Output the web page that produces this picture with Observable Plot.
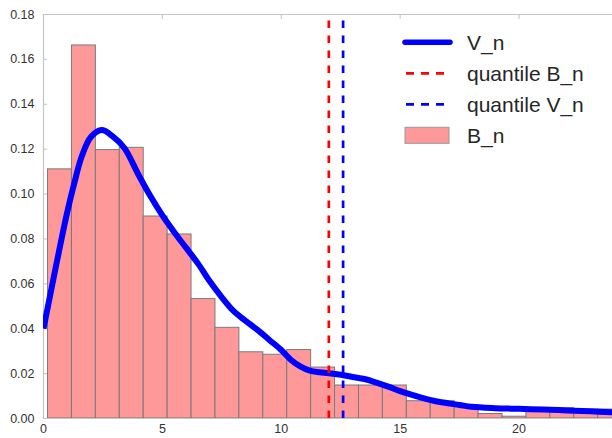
<!DOCTYPE html>
<html>
<head>
<meta charset="utf-8">
<script src="https://cdn.jsdelivr.net/npm/d3@7"></script>
<script src="https://cdn.jsdelivr.net/npm/@observablehq/plot@0.6"></script>
<style>
  html, body { margin: 0; padding: 0; background: #fff; }
  #chart svg { display: block; }
</style>
</head>
<body>
<div id="chart"></div>
<script>
// Histogram B_n (density per bin)
const binStart = 0.19;
const binWidth = 1.006;
const binHeights = [0.111, 0.1662, 0.1196, 0.1206, 0.0900, 0.0820, 0.0532, 0.0404,
  0.0295, 0.0284, 0.0305, 0.0227, 0.0147, 0.0147, 0.0147, 0.0077, 0.0077, 0.0052,
  0.0020, 0.0008, 0.0034, 0.0046, 0.0040, 0.0040];

// Density curve V_n
const curveX = [0, 0.3, 0.7, 1.0, 1.3, 1.6, 2.0, 2.45, 2.9, 3.4, 4.0, 4.5, 5.0, 5.5, 6.0,
  6.5, 7.0, 7.5, 8.0, 8.5, 9.0, 9.5, 10.0, 10.4, 10.8, 11.2, 11.6, 12.0, 12.5, 13.0,
  13.5, 14.0, 14.5, 15.0, 15.5, 16.0, 16.5, 17.0, 17.5, 18.0, 19.0, 20.0, 21.0, 22.0,
  23.0, 23.93];
const curveY = [0.040, 0.056, 0.077, 0.092, 0.105, 0.1165, 0.1255, 0.1285, 0.1258, 0.1205,
  0.1085, 0.0990, 0.0905, 0.0830, 0.0760, 0.0690, 0.0610, 0.0540, 0.0478, 0.0435,
  0.0395, 0.0350, 0.0305, 0.0262, 0.0232, 0.0213, 0.0206, 0.0202, 0.0195, 0.0185,
  0.0176, 0.0160, 0.0142, 0.0122, 0.0105, 0.0090, 0.0077, 0.0068, 0.0060, 0.0052,
  0.0046, 0.0043, 0.0040, 0.0036, 0.0032, 0.0028];

// Quantiles
const quantileB = 12.0;
const quantileV = 12.6;

// Axes
const xTicks = [0, 5, 10, 15, 20];
const yTicks = [0, 0.02, 0.04, 0.06, 0.08, 0.10, 0.12, 0.14, 0.16, 0.18];
const xDomain = [0, 23.93];
const yDomain = [0, 0.18];

const legendLabels = ["V_n", "quantile B_n", "quantile V_n", "B_n"];

const bars = binHeights.map((h, i) => ({x1: binStart + i * binWidth, x2: binStart + (i + 1) * binWidth, y: h}));
const curve = curveX.map((x, i) => ({x, y: curveY[i]}));

const frameColor = "#c4c4c4";
const chart = Plot.plot({
  width: 612,
  height: 438,
  marginLeft: 43,
  marginRight: 0,
  marginTop: 14,
  marginBottom: 20,
  style: {fontFamily: "'Liberation Sans', Arial, sans-serif", fontSize: "12.5px", color: "#333", background: "#fff"},
  x: {domain: xDomain, label: null},
  y: {domain: yDomain, label: null},
  marks: [
    Plot.rectY(bars, {x1: "x1", x2: "x2", y: "y", fill: "#ff9999", stroke: "#7a7a7a", strokeWidth: 1, clip: true}),
    Plot.axisY(yTicks, {anchor: "left", tickSize: 4, dx: 4, stroke: frameColor, tickFormat: () => "", label: null}),
    Plot.axisX(xTicks, {anchor: "top", tickSize: 4, dy: 4, stroke: frameColor, tickFormat: () => "", label: null}),
    Plot.ruleX([xDomain[0]], {stroke: frameColor, strokeWidth: 1.2}),
    Plot.ruleY([yDomain[0], yDomain[1]], {stroke: frameColor, strokeWidth: 1.2}),
    Plot.line(curve, {x: "x", y: "y", stroke: "#0000ff", strokeWidth: 6, curve: "catmull-rom", strokeLinejoin: "round", strokeLinecap: "butt", clip: true}),
    Plot.ruleX([quantileB], {y1: yDomain[0], y2: yDomain[1], stroke: "#ff0000", strokeWidth: 2.7, strokeDasharray: "7.5,7.5"}),
    Plot.ruleX([quantileV], {y1: yDomain[0], y2: yDomain[1], stroke: "#0000ff", strokeWidth: 2.7, strokeDasharray: "7.5,7.5"}),
    Plot.axisX(xTicks, {anchor: "bottom", tickSize: 0, tickPadding: 6, label: null}),
    Plot.axisY(yTicks, {anchor: "left", tickSize: 0, tickPadding: 9, tickFormat: d3.format(".2f"), label: null})
  ]
});
document.getElementById("chart").appendChild(chart);

// Legend (upper right, inside the axes)
const svg = d3.select(chart);
const lg = svg.append("g")
  .attr("font-family", "'Liberation Sans', Arial, sans-serif")
  .attr("font-size", 21)
  .attr("text-anchor", "start")
  .attr("fill", "#262626");
const rowY = [42.3, 73.3, 104.3, 135.3];
const sx0 = 405, sx1 = 450, tx = 467;
lg.append("line").attr("x1", sx0).attr("x2", sx1).attr("y1", rowY[0]).attr("y2", rowY[0])
  .attr("stroke", "#0000ff").attr("stroke-width", 5.5).attr("stroke-linecap", "round");
lg.append("line").attr("x1", sx0 + 1).attr("x2", sx1 - 5).attr("y1", rowY[1]).attr("y2", rowY[1])
  .attr("stroke", "#ff0000").attr("stroke-width", 2.7).attr("stroke-dasharray", "8,7");
lg.append("line").attr("x1", sx0 + 1).attr("x2", sx1 - 5).attr("y1", rowY[2]).attr("y2", rowY[2])
  .attr("stroke", "#0000ff").attr("stroke-width", 2.7).attr("stroke-dasharray", "8,7");
lg.append("rect").attr("x", sx0).attr("y", rowY[3] - 8).attr("width", 44).attr("height", 16)
  .attr("fill", "#ff9999").attr("stroke", "#999");
legendLabels.forEach((t, i) => {
  lg.append("text").attr("x", tx).attr("y", rowY[i] + 7.5).text(t);
});
</script>
</body>
</html>
